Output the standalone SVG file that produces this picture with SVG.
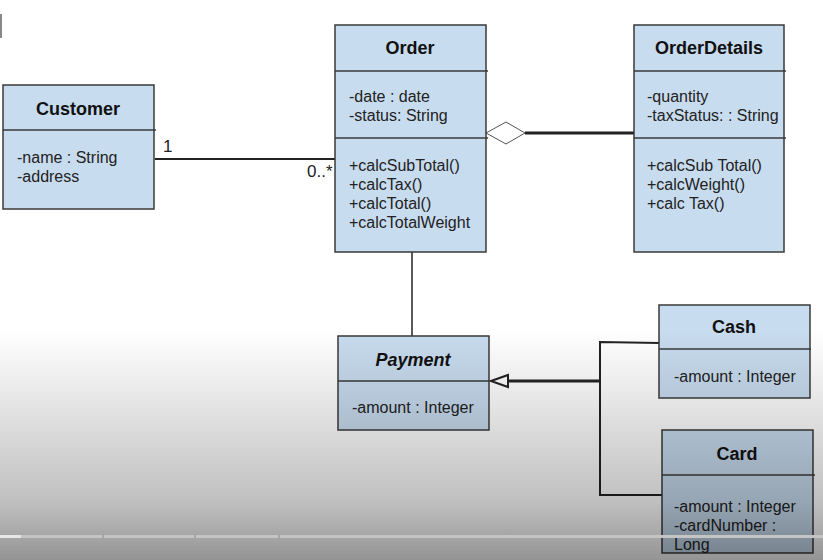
<svg xmlns="http://www.w3.org/2000/svg" width="823" height="560" viewBox="0 0 823 560">
<defs>
<style>
.box{fill:#c8dcef;stroke:#3a3a3a;stroke-width:1.5}
.div{stroke:#3a3a3a;stroke-width:1.5}
.t{font-family:"Liberation Sans",Arial,sans-serif;font-size:18px;font-weight:bold;fill:#111;text-anchor:middle}
.a{font-family:"Liberation Sans",Arial,sans-serif;font-size:16px;fill:#222}
.m{font-family:"Liberation Sans",Arial,sans-serif;font-size:17px;fill:#222}
.ln{stroke:#222;fill:none}
</style>
<linearGradient id="shade" x1="0" y1="0" x2="0" y2="1">
<stop offset="0" stop-color="#000" stop-opacity="0"/>
<stop offset="0.25" stop-color="#000" stop-opacity="0.08"/>
<stop offset="0.75" stop-color="#000" stop-opacity="0.25"/>
<stop offset="1" stop-color="#000" stop-opacity="0.42"/>
</linearGradient>
</defs>
<rect width="823" height="560" fill="#fff"/>
<rect x="0" y="14" width="2" height="24" fill="#888"/>

<g id="connectors">
<line class="ln" x1="155" y1="159" x2="335" y2="159" stroke-width="2"/>
<text class="m" x="163" y="152">1</text>
<text class="m" x="307" y="177">0..*</text>
<polygon points="486,133 506,122 525,133 506,144" fill="#fff" stroke="#555" stroke-width="1"/>
<line class="ln" x1="525" y1="133" x2="634" y2="133" stroke-width="3"/>
<line class="ln" x1="412" y1="252" x2="412" y2="336" stroke-width="1.5"/>
<line class="ln" x1="508" y1="381" x2="600" y2="381" stroke-width="3"/>
<polygon points="491,381 508,375 508,387" fill="#fff" stroke="#222" stroke-width="2"/>
<polyline class="ln" points="660,343 600,342 600,495 662,495" stroke-width="2"/>
</g>

<g id="customer">
<rect class="box" x="3" y="85" width="151" height="124"/>
<line class="div" x1="3" y1="130" x2="156" y2="130"/>
<text class="t" x="78" y="115">Customer</text>
<text class="a" x="17" y="163">-name : String</text>
<text class="a" x="17" y="182">-address</text>
</g>

<g id="order">
<rect class="box" x="335" y="25" width="151" height="227"/>
<line class="div" x1="335" y1="71" x2="488" y2="71"/>
<line class="div" x1="335" y1="138" x2="488" y2="138"/>
<text class="t" x="410" y="54">Order</text>
<text class="a" x="349" y="102">-date : date</text>
<text class="a" x="349" y="121">-status: String</text>
<text class="a" x="349" y="171">+calcSubTotal()</text>
<text class="a" x="349" y="190">+calcTax()</text>
<text class="a" x="349" y="209">+calcTotal()</text>
<text class="a" x="349" y="228">+calcTotalWeight</text>
</g>

<g id="orderdetails">
<rect class="box" x="634" y="25" width="150" height="227"/>
<line class="div" x1="634" y1="71" x2="786" y2="71"/>
<line class="div" x1="634" y1="138" x2="786" y2="138"/>
<text class="t" x="709" y="54">OrderDetails</text>
<text class="a" x="647" y="102">-quantity</text>
<text class="a" x="647" y="121">-taxStatus: : String</text>
<text class="a" x="647" y="171">+calcSub Total()</text>
<text class="a" x="647" y="190">+calcWeight()</text>
<text class="a" x="647" y="209">+calc Tax()</text>
</g>

<g id="payment">
<rect class="box" x="338" y="336" width="151" height="94"/>
<line class="div" x1="338" y1="381" x2="489" y2="381"/>
<text class="t" x="413" y="366" font-style="italic">Payment</text>
<text class="a" x="352" y="413">-amount : Integer</text>
</g>

<g id="cash">
<rect class="box" x="659" y="305" width="151" height="93"/>
<line class="div" x1="659" y1="349" x2="811" y2="349"/>
<text class="t" x="734" y="333">Cash</text>
<text class="a" x="674" y="382">-amount : Integer</text>
</g>

<g id="card">
<rect class="box" x="662" y="430" width="151" height="123"/>
<line class="div" x1="662" y1="475" x2="815" y2="475"/>
<text class="t" x="737" y="460">Card</text>
<text class="a" x="674" y="512">-amount : Integer</text>
<text class="a" x="674" y="531">-cardNumber :</text>
<text class="a" x="674" y="550">Long</text>
</g>

<rect x="0" y="330" width="823" height="230" fill="url(#shade)"/>
<g id="progress">
<rect x="0" y="535" width="21" height="3" fill="#e6e6e6"/>
<rect x="21" y="535" width="81" height="3" fill="#c4c4c4"/>
<rect x="104" y="535" width="90" height="3" fill="#c4c4c4"/>
<rect x="196" y="535" width="82" height="3" fill="#c4c4c4"/>
<rect x="280" y="535" width="543" height="3" fill="#c4c4c4"/>
</g>
</svg>
